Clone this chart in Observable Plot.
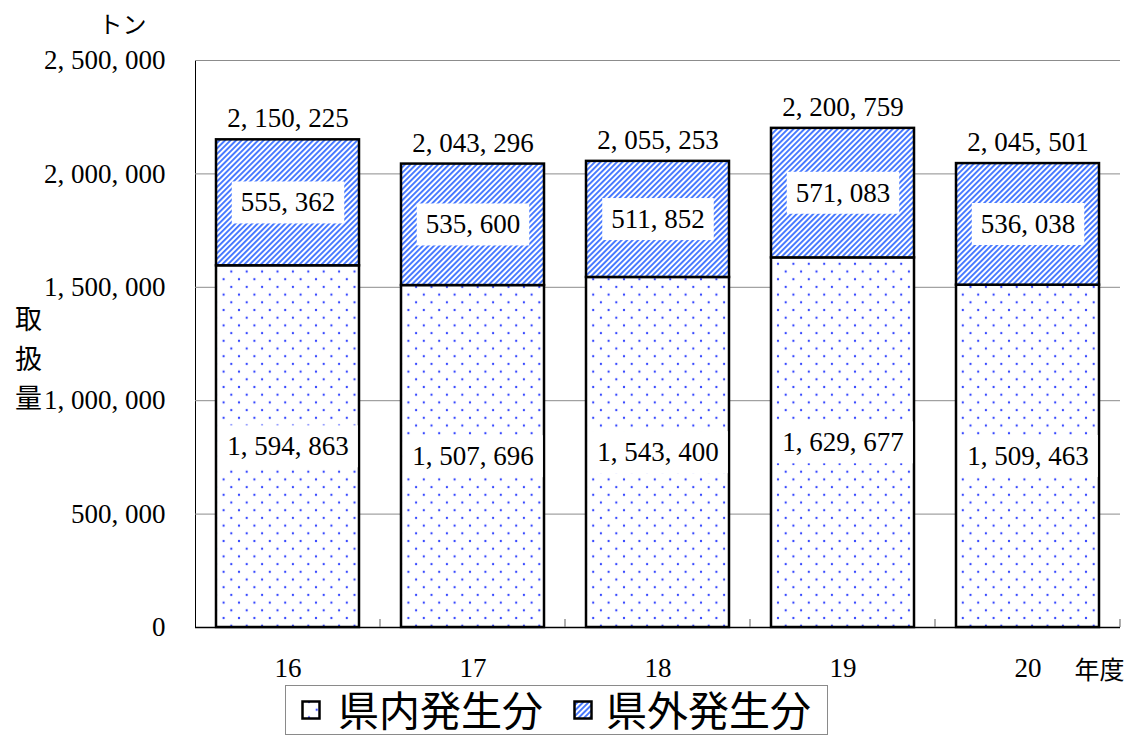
<!DOCTYPE html>
<html>
<head>
<meta charset="utf-8">
<script src="https://cdn.jsdelivr.net/npm/d3@7"></script>
<script src="https://cdn.jsdelivr.net/npm/@observablehq/plot@0.6"></script>
<style>
  body { margin: 0; background: #fff; overflow: hidden; }
  #wrap { position: relative; width: 1129px; height: 736px; overflow: hidden; }
  #legend {
    position: absolute; left: 285px; top: 685px; width: 543px; height: 50px;
    border: 1px solid #8a8a8a; box-sizing: border-box; background: #fff;
    font-family: "Noto Sans CJK JP", sans-serif; font-size: 41px; line-height: 41px; color: #000;
  }
  #legend .sw { position: absolute; top: 14px; }
  #legend .tx { position: absolute; top: 2px; white-space: nowrap; }
</style>
</head>
<body>
<div id="wrap"></div>
<script>
const years = ["16", "17", "18", "19", "20"];
const inside = [1594863, 1507696, 1543400, 1629677, 1509463];   // 県内発生分
const outside = [555362, 535600, 511852, 571083, 536038];       // 県外発生分
const totals = [2150225, 2043296, 2055253, 2200759, 2045501];
const yTicks = [0, 500000, 1000000, 1500000, 2000000, 2500000];
const seriesNames = ["県内発生分", "県外発生分"];

const fmt = v => d3.format(",")(v).replace(/,/g, ", ");

const rows = years.map((yr, i) => ({year: yr, inside: inside[i], outside: outside[i], total: totals[i]}));

const chart = Plot.plot({
  width: 1129,
  height: 690,
  marginLeft: 195,
  marginRight: 9,
  marginTop: 60,
  marginBottom: 63,
  style: {fontFamily: "'Liberation Serif', 'Noto Sans CJK JP', serif", fontSize: "27px", color: "#000", background: "#fff"},
  x: {domain: years, type: "band", paddingInner: 0.227, paddingOuter: 0.1135, tickSize: 0, tickPadding: 30, label: null},
  y: {domain: [0, 2500000], ticks: yTicks, tickFormat: fmt, tickSize: 0, tickPadding: 30, label: null, line: true},
  marks: [
    Plot.ruleY(yTicks, {stroke: "#8c8c8c", strokeWidth: 1}),
    Plot.barY(rows, {x: "year", y1: 0, y2: "inside", fill: "url(#dots)", stroke: "#000", strokeWidth: 2.5}),
    Plot.barY(rows, {x: "year", y1: "inside", y2: "total", fill: "url(#hatch)", stroke: "#000", strokeWidth: 2.5}),
    Plot.ruleY([0], {stroke: "#000", strokeWidth: 1.5}),
    Plot.text(rows, {x: "year", y: d => d.inside / 2, text: d => fmt(d.inside), fontSize: 27}),
    Plot.text(rows, {x: "year", y: d => d.inside + d.outside / 2, text: d => fmt(d.outside), fontSize: 27}),
    Plot.text(rows, {x: "year", y: "total", text: d => fmt(d.total), dy: -21, fontSize: 27}),
    Plot.text(["トン"], {frameAnchor: "top-left", text: d => d, dx: -73, dy: -35, textAnchor: "middle", lineAnchor: "middle", fontSize: 24}),
    Plot.text(["取\n扱\n量"], {frameAnchor: "left", text: d => d, dx: -167, dy: 12, textAnchor: "middle", fontSize: 27, lineHeight: 1.45}),
    Plot.text(["年度"], {frameAnchor: "bottom-right", text: d => d, dx: -21, dy: 43, textAnchor: "middle", lineAnchor: "middle", fontSize: 25})
  ]
});

const svg = d3.select(chart.tagName.toLowerCase() === "svg" ? chart : chart.querySelector("svg"));
function addDefs(sel) {
  const defs = sel.insert("defs", ":first-child");
  const h = defs.append("pattern").attr("id", "hatch").attr("patternUnits", "userSpaceOnUse")
    .attr("width", 3.9).attr("height", 3.9).attr("patternTransform", "rotate(45)");
  h.append("rect").attr("width", 3.9).attr("height", 3.9).attr("fill", "#fff");
  h.append("rect").attr("width", 1.9).attr("height", 3.9).attr("fill", "#4477ff");
  const p = defs.append("pattern").attr("id", "dots").attr("patternUnits", "userSpaceOnUse")
    .attr("width", 15.4).attr("height", 15.4).attr("x", 8).attr("y", 2);
  p.append("rect").attr("width", 15.4).attr("height", 15.4).attr("fill", "#fff");
  [[0, 0], [15.4, 0], [0, 15.4], [15.4, 15.4], [7.7, 7.7]].forEach(([cx, cy]) =>
    p.append("circle").attr("cx", cx).attr("cy", cy).attr("r", 1.15).attr("fill", "#3344ff"));
}
addDefs(svg);

document.getElementById("wrap").append(chart);

// white boxes behind segment labels
const segSet = new Set([...inside, ...outside].map(fmt));
svg.selectAll("text").each(function() {
  if (!segSet.has(this.textContent)) return;
  const b = this.getBBox();
  d3.select(this.parentNode).insert("rect", () => this)
    .attr("transform", this.getAttribute("transform"))
    .attr("x", b.x - 9).attr("y", b.y - 6).attr("width", b.width + 18).attr("height", b.height + 12)
    .attr("fill", "#fff");
});

// small ticks between categories on the baseline
const xs = chart.scale("x"), ys = chart.scale("y");
const y0 = ys.apply(0);
years.forEach(yr => {
  const bx = xs.apply(yr) + xs.bandwidth + (xs.step - xs.bandwidth) / 2;
  svg.append("line").attr("x1", bx).attr("x2", bx).attr("y1", y0).attr("y2", y0 - 8)
    .attr("stroke", "#777").attr("stroke-width", 1.2);
});

// legend
const legend = d3.select("#wrap").append("div").attr("id", "legend");
const fills = ["url(#dots)", "url(#hatch)"];
const swLeft = [15, 287], txLeft = [52, 320];
seriesNames.forEach((name, i) => {
  const s = legend.append("svg").attr("class", "sw").attr("width", 20).attr("height", 20).style("left", swLeft[i] + "px");
  s.append("rect").attr("x", 1.5).attr("y", 1.5).attr("width", 17).attr("height", 17)
    .attr("fill", fills[i]).attr("stroke", "#000").attr("stroke-width", 2.5);
  legend.append("span").attr("class", "tx").style("left", txLeft[i] + "px").text(name);
});
</script>
</body>
</html>
